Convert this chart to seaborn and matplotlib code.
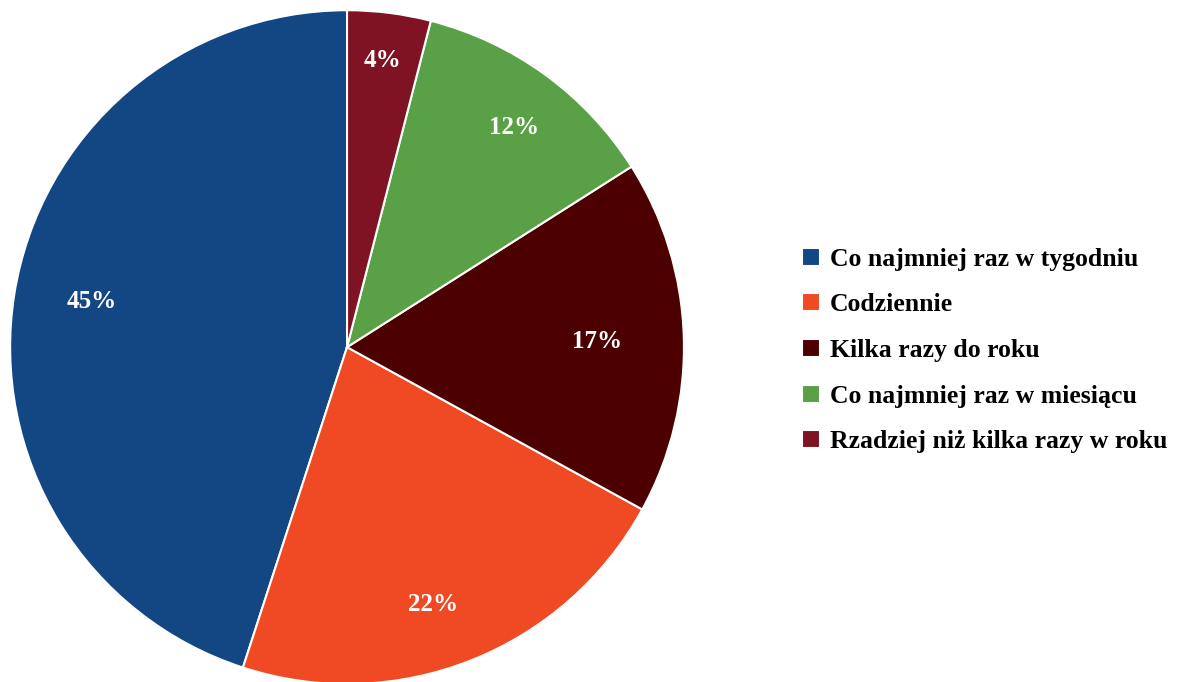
import matplotlib
matplotlib.use("Agg")
import matplotlib.pyplot as plt
import numpy as np
import seaborn as sns

# Data
CATEGORIES = [
    "Co najmniej raz w tygodniu",
    "Codziennie",
    "Kilka razy do roku",
    "Co najmniej raz w miesiącu",
    "Rzadziej niż kilka razy w roku",
]
SHARES = [45, 22, 17, 12, 4]
COLORS = ["#134784", "#EF4A23", "#4D0000", "#5AA046", "#7F1324"]

# label placement: distance from centre (fraction of radius) and angle nudge (deg)
LABEL_DIST = [0.77, 0.805, 0.742, 0.82, 0.858]
LABEL_NUDGE = [-1.2, -3.1, -0.6, -1.2, 0.2]

sns.set_style("white")
plt.rcParams["font.family"] = ["Liberation Serif", "DejaVu Serif"]
plt.rcParams["font.weight"] = "bold"
plt.rcParams["text.color"] = "black"

fig = plt.figure(figsize=(11.83, 6.82), dpi=100)
ax = fig.add_axes([0.0085, -0.003, 0.5697, 0.988])

palette = sns.color_palette(COLORS)
wedges, texts, autotexts = ax.pie(
    SHARES,
    colors=palette,
    startangle=90,
    counterclock=True,
    autopct=lambda p: f"{p:.0f}%",
    pctdistance=0.77,
    radius=1.0,
    wedgeprops={"edgecolor": "white", "linewidth": 1.5},
    textprops={"color": "white", "fontsize": 18, "fontweight": "bold"},
)
for w, t, d, n in zip(wedges, autotexts, LABEL_DIST, LABEL_NUDGE):
    mid = np.deg2rad((w.theta1 + w.theta2) / 2 + n)
    t.set_position((d * np.cos(mid), d * np.sin(mid)))

ax.set_xlim(-1.0, 1.0)
ax.set_ylim(-1.0, 1.0)
ax.set_aspect("equal")
ax.axis("off")

fig.legend(
    wedges,
    CATEGORIES,
    loc="center left",
    bbox_to_anchor=(0.658, 0.486),
    frameon=False,
    prop={"weight": "bold", "size": 18.5},
    handlelength=0.7,
    handleheight=0.7,
    handletextpad=0.4,
    labelspacing=0.88,
)

fig.savefig("out.png", dpi=100)
plt.close(fig)
